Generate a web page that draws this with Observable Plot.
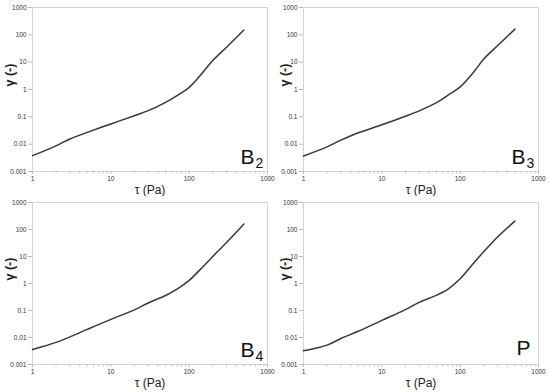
<!DOCTYPE html>
<html>
<head>
<meta charset="utf-8">
<script src="https://cdn.jsdelivr.net/npm/d3@7"></script>
<script src="https://cdn.jsdelivr.net/npm/@observablehq/plot@0.6"></script>
<style>
  html, body { margin: 0; padding: 0; background: #fff; }
  #wrap { position: relative; width: 550px; height: 392px; overflow: hidden; }
  .panel { position: absolute; width: 275px; height: 196px; }
</style>
</head>
<body>
<div id="wrap"></div>
<script>
// ---- data ----
const tau = [1, 2, 3, 5, 10, 20, 30, 50, 70, 100, 150, 200, 300, 500];
const gammaB2 = [0.0038, 0.0087, 0.0155, 0.027, 0.055, 0.11, 0.168, 0.34, 0.6, 1.2, 4.3, 11.5, 35, 150];
const gammaB3 = [0.0037, 0.008, 0.014, 0.026, 0.051, 0.105, 0.166, 0.33, 0.62, 1.25, 4.5, 13, 40, 162];
const gammaB4 = [0.0036, 0.0066, 0.0105, 0.02, 0.047, 0.105, 0.19, 0.36, 0.62, 1.3, 4.2, 10, 33, 160];
const gammaP  = [0.0032, 0.0052, 0.0092, 0.017, 0.043, 0.108, 0.2, 0.37, 0.62, 1.5, 5.9, 15, 53, 205];

const panelMain = ["B", "B", "B", "P"];
const panelSub = ["2", "3", "4", ""];

const xTicks = [1, 10, 100, 1000];
const xTickLabels = ["1", "10", "100", "1000"];
const xMinorTicks = [2, 3, 4, 5, 6, 7, 8, 9, 20, 30, 40, 50, 60, 70, 80, 90, 200, 300, 400, 500, 600, 700, 800, 900];
const yTicks = [0.001, 0.01, 0.1, 1, 10, 100, 1000];
const yTickLabels = ["0.001", "0.01", "0.1", "1", "10", "100", "1000"];

const xLabel = "τ (Pa)";
const yLabel = "γ (-)";

// ---- layout ----
const layouts = [
  {left: 0,   top: 0,   ml: 32, mr: 8,  mt: 7, mb: 25},
  {left: 275, top: 0,   ml: 28, mr: 12, mt: 7, mb: 25},
  {left: 0,   top: 196, ml: 32, mr: 8,  mt: 6, mb: 28},
  {left: 275, top: 196, ml: 28, mr: 12, mt: 6, mb: 28}
];
const series = [gammaB2, gammaB3, gammaB4, gammaP];

const font = "'Liberation Sans', Arial, sans-serif";

function makePanel(gamma, main, sub, L) {
  const data = tau.map((t, i) => ({tau: t, gamma: gamma[i]}));
  const marks = [
    Plot.frame({stroke: "#d4d4d4"}),
    Plot.axisX(xMinorTicks, {tickSize: 2.5, tickFormat: () => "", stroke: "#c4c4c4", label: null}),
    Plot.axisX(xTicks, {tickSize: 3, tickPadding: 2, tickFormat: d => xTickLabels[xTicks.indexOf(d)],
      fontSize: 6.5, fill: "#333", stroke: "#bbb", label: null}),
    Plot.axisY(yTicks, {tickSize: 4, tickPadding: 2, tickFormat: d => yTickLabels[yTicks.indexOf(d)],
      fontSize: 6.5, fill: "#333", stroke: "#bbb", label: null}),
    Plot.line(data, {x: "tau", y: "gamma", stroke: "#383838", strokeWidth: 1.5, curve: "catmull-rom"}),
    Plot.text([xLabel], {frameAnchor: "bottom", dy: 19, lineAnchor: "middle", fontSize: 12, fill: "#222"}),
    Plot.text([yLabel], {frameAnchor: "left", dx: -(L.ml - 9.5), dy: -3, rotate: -90, lineAnchor: "middle",
      fontSize: 12.5, fontWeight: "bold", fill: "#222"})
  ];
  if (sub) {
    marks.push(Plot.text([main], {frameAnchor: "bottom-right", textAnchor: "end", lineAnchor: "bottom",
      dx: -13, dy: -7.5, fontSize: 21, fill: "#111"}));
    marks.push(Plot.text([sub], {frameAnchor: "bottom-right", textAnchor: "start", lineAnchor: "bottom",
      dx: -12, dy: -3.5, fontSize: 14, fill: "#111"}));
  } else {
    marks.push(Plot.text([main], {frameAnchor: "bottom-right", textAnchor: "end", lineAnchor: "bottom",
      dx: -8, dy: -9.5, fontSize: 21, fill: "#111"}));
  }
  return Plot.plot({
    width: 275, height: 196,
    marginLeft: L.ml, marginRight: L.mr, marginTop: L.mt, marginBottom: L.mb,
    x: {type: "log", domain: [1, 1000]},
    y: {type: "log", domain: [0.001, 1000]},
    style: {fontFamily: font, background: "white", overflow: "visible"},
    marks
  });
}

const wrap = document.getElementById("wrap");
series.forEach((g, i) => {
  const L = layouts[i];
  const div = document.createElement("div");
  div.className = "panel";
  div.style.left = L.left + "px";
  div.style.top = L.top + "px";
  div.appendChild(makePanel(g, panelMain[i], panelSub[i], L));
  wrap.appendChild(div);
});
</script>
</body>
</html>
